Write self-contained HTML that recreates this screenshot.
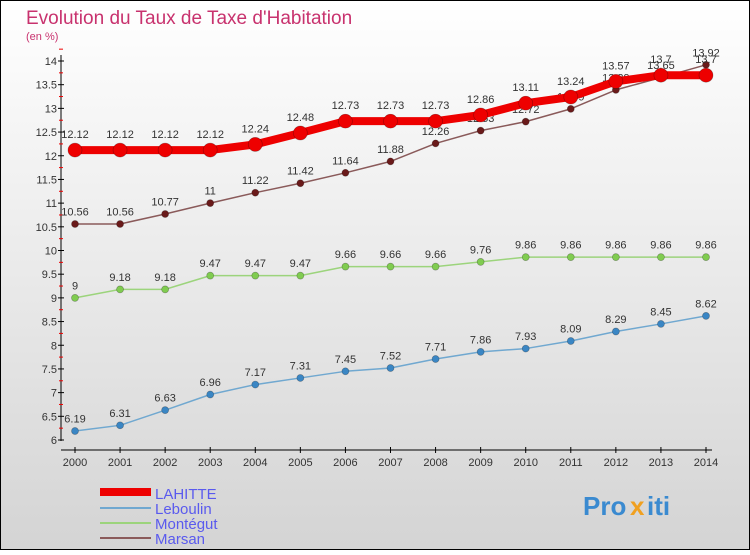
<!DOCTYPE html>
<html><head><meta charset="utf-8"><style>
body{margin:0;width:750px;height:550px;overflow:hidden;font-family:"Liberation Sans",sans-serif}
svg text{font-family:"Liberation Sans",sans-serif}
</style></head><body>
<svg id="c" width="750" height="550">
<defs><linearGradient id="bg" x1="0" y1="0" x2="0" y2="1"><stop offset="0" stop-color="#ffffff"/><stop offset="1" stop-color="#d4d4d4"/></linearGradient></defs>
<rect x="0.5" y="0.5" width="749" height="549" fill="url(#bg)" stroke="#000"/>
<text x="26" y="24" font-size="19" fill="#c8326e">Evolution du Taux de Taxe d'Habitation</text>
<text x="26" y="40" font-size="11" fill="#c8326e">(en %)</text>
<g id="axes"></g><g id="series"></g>
<g>
<rect x="100" y="488" width="51" height="8" fill="#e00"/>
<text x="155" y="499" font-size="15" fill="#5a5aee">LAHITTE</text>
<rect x="100" y="507" width="51" height="2" fill="#70a8d0"/>
<text x="155" y="514" font-size="15" fill="#5a5aee">Leboulin</text>
<rect x="100" y="522" width="51" height="2" fill="#9cd47c"/>
<text x="155" y="529" font-size="15" fill="#5a5aee">Montégut</text>
<rect x="100" y="537" width="51" height="2" fill="#8a5a5a"/>
<text x="155" y="544" font-size="15" fill="#5a5aee">Marsan</text>
</g>
<g font-size="26" font-weight="bold">
<text x="583" y="515" fill="#3a8ad0">Pro</text><text x="630" y="515" fill="#f0a020">x</text><text x="647" y="515" fill="#3a8ad0">iti</text>
</g>
</svg>
<script>
const years=[2000,2001,2002,2003,2004,2005,2006,2007,2008,2009,2010,2011,2012,2013,2014];
const yTicks=[6,6.5,7,7.5,8,8.5,9,9.5,10,10.5,11,11.5,12,12.5,13,13.5,14];
const lahitte=[12.12,12.12,12.12,12.12,12.24,12.48,12.73,12.73,12.73,12.86,13.11,13.24,13.57,13.7,13.7];
const leboulin=[6.19,6.31,6.63,6.96,7.17,7.31,7.45,7.52,7.71,7.86,7.93,8.09,8.29,8.45,8.62];
const montegut=[9,9.18,9.18,9.47,9.47,9.47,9.66,9.66,9.66,9.76,9.86,9.86,9.86,9.86,9.86];
const marsan=[10.56,10.56,10.77,11,11.22,11.42,11.64,11.88,12.26,12.53,12.72,12.99,13.39,13.65,13.92];
const NS="http://www.w3.org/2000/svg";
const X=i=>75+i*(706-75)/14;
const Y=v=>440-(v-6)*(440-61)/8;
function mk(p,t,a){const e=document.createElementNS(NS,t);for(const k in a)e.setAttribute(k,a[k]);p.appendChild(e);return e;}
const ax=document.getElementById('axes');
let e=mk(ax,'line',{x1:61,y1:55,x2:61,y2:441,stroke:'#000','stroke-width':1});


e=mk(ax,'line',{x1:61,y1:450,x2:712,y2:450,stroke:'#000','stroke-width':1});


yTicks.forEach(v=>{
 mk(ax,'line',{x1:58,y1:Y(v),x2:64,y2:Y(v),stroke:'#000'});
 mk(ax,'line',{x1:59,y1:Y(v+0.25),x2:63,y2:Y(v+0.25),stroke:'#e00'});
 const t=mk(ax,'text',{x:57,y:Y(v)+4,'font-size':11,'text-anchor':'end',fill:'#333'});t.textContent=String(v);
 
 
});
years.forEach((yr,i)=>{
 mk(ax,'line',{x1:X(i),y1:447,x2:X(i),y2:453,stroke:'#000'});
 const t=mk(ax,'text',{x:X(i),y:466,'font-size':11,'text-anchor':'middle',fill:'#333'});t.textContent=yr;
 
 
});
const sg=document.getElementById('series');
function series(vals,name,col,w,r,dot){
 const g=mk(sg,'g',{});
 
 
 const pl=mk(g,'polyline',{points:vals.map((v,i)=>X(i)+','+Y(v)).join(' '),fill:'none',stroke:col,'stroke-width':w,'stroke-linejoin':'round'});
 
 
 vals.forEach((v,i)=>{
  const c=mk(g,'circle',{cx:X(i),cy:Y(v),r:r,fill:dot,stroke:'rgba(0,0,0,0.3)','stroke-width':0.7});
  
  
  const t=mk(g,'text',{x:X(i),y:Y(v)-r-5,'font-size':11,'text-anchor':'middle',fill:'#333'});t.textContent=String(v);
  
  
 });
}
series(leboulin,'leboulin','#70a8d0',1.5,3.5,'#3a86c4');
series(montegut,'montegut','#9cd47c',1.5,3.5,'#80cc50');
series(marsan,'marsan','#8a5a5a',1.5,3.5,'#6a1a1a');
series(lahitte,'lahitte','#e00',8,7,'#e00');
</script>
</body></html>
